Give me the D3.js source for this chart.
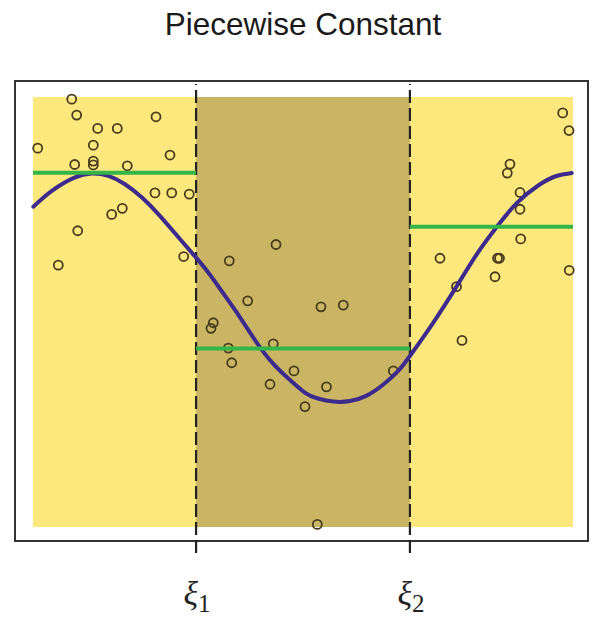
<html>
<meta charset="utf-8" />
<head>
<title>Piecewise Constant</title>
<style>
body { margin: 0; background: #fff; }
svg { display: block; }
.title { font-family: "Liberation Sans", Arial, sans-serif; font-size: 31.5px; fill: #1a1a1a; text-anchor: middle; }
.knot { font-family: "Liberation Serif", "DejaVu Serif", serif; fill: #222; }
</style>
<script src="https://cdn.jsdelivr.net/npm/d3@7"></script>
</head>
<body>
<svg class="chart"></svg>

<script>
var chartWidth = 592;
var chartHeight = 617;

/********
 * Data *
 ********/

// observed points
var pointX = [7.17, 8.09, 11.98, 15.61, 22.78, 0.87, 11.17, 25.37, 7.72, 11.17,
              11.17, 17.46, 22.59, 25.69, 28.94, 16.54, 14.57, 8.28, 4.69, 27.91,
              45.0, 36.35, 39.76, 53.33, 57.46, 33.39, 32.96, 36.17, 44.5, 36.8,
              48.33, 66.72, 43.89, 54.35, 50.37, 52.65,
              98.09, 99.26, 88.33, 87.83, 90.19, 90.19, 90.31, 75.37, 86.02, 86.39,
              85.56, 99.3, 78.43, 79.44];
var pointY = [99.5, 95.8, 92.7, 92.7, 95.4, 88.1, 88.8, 86.5, 84.3, 85.1,
              84.2, 84.0, 77.7, 77.7, 77.4, 74.1, 72.7, 68.9, 60.9, 62.9,
              65.7, 61.9, 52.6, 51.2, 51.6, 47.5, 46.2, 41.6, 42.6, 38.2,
              36.3, 36.3, 33.2, 32.6, 28.0, 0.6,
              96.3, 92.2, 84.4, 82.3, 77.8, 73.9, 67.0, 62.5, 62.5, 62.5,
              58.2, 59.7, 55.9, 43.4];

// true function
var curveX = [0.06, 3.46, 7.78, 10.87, 13.94, 17.04, 20.13, 23.2, 26.3, 30.0,
              32.17, 35.24, 38.33, 41.43, 44.5, 47.59, 50.69, 52.54, 55.61, 58.7,
              61.8, 64.87, 67.96, 69.81, 74.13, 78.46, 82.17, 85.87, 89.57, 93.89,
              96.98, 99.76];
var curveY = [74.5, 78.4, 81.6, 82.4, 81.9, 79.9, 76.8, 72.9, 68.3, 62.9,
              59.8, 54.3, 48.9, 42.7, 37.7, 34.2, 30.7, 29.9, 29.0, 29.1,
              30.3, 33.0, 36.5, 39.8, 47.4, 55.9, 63.7, 69.8, 75.7, 79.9,
              81.9, 82.3];

// knots and piecewise constant fit
var knots = [30.2, 69.8];
var knotLabels = ["1", "2"];
var pieceStart = [0, 30.2, 69.8];
var pieceEnd = [30.2, 69.8, 100];
var pieceLevel = [82.4, 41.5, 69.8];

/**********
 * Scales *
 **********/

var frame = {left: 15, top: 81, right: 588, bottom: 541};

var x = d3.scaleLinear().domain([0, 100]).range([33, 573]);
var y = d3.scaleLinear().domain([0, 100]).range([527, 97]);

/**************
 * Make Chart *
 **************/

function makeChart() {
  var svg = d3.select(".chart")
      .attr("width", chartWidth)
      .attr("height", chartHeight);

  svg.append("text")
      .attr("class", "title")
      .attr("x", 303)
      .attr("y", 35)
      .text("Piecewise Constant");

  // background regions
  svg.append("rect")
      .attr("x", x(0)).attr("y", y(100))
      .attr("width", x(100) - x(0)).attr("height", y(0) - y(100))
      .attr("fill", "#fde87e");

  svg.append("rect")
      .attr("x", x(knots[0])).attr("y", y(100))
      .attr("width", x(knots[1]) - x(knots[0])).attr("height", y(0) - y(100))
      .attr("fill", "#cab564");

  // frame
  svg.append("rect")
      .attr("x", frame.left).attr("y", frame.top)
      .attr("width", frame.right - frame.left).attr("height", frame.bottom - frame.top)
      .attr("fill", "none")
      .attr("stroke", "#333")
      .attr("stroke-width", 2);

  // knot lines, drawn bottom-up so the piece below the frame is solid
  svg.selectAll(".knotline")
      .data(knots)
    .enter().append("line")
      .attr("class", "knotline")
      .attr("x1", function(d){ return x(d); })
      .attr("x2", function(d){ return x(d); })
      .attr("y1", frame.bottom + 12)
      .attr("y2", frame.top + 3)
      .attr("stroke", "#222")
      .attr("stroke-width", 2.2)
      .attr("stroke-dasharray", "13,5");

  // points
  var pts = pointX.map(function(d, i){ return [d, pointY[i]]; });
  svg.selectAll(".pt")
      .data(pts)
    .enter().append("circle")
      .attr("class", "pt")
      .attr("cx", function(d){ return x(d[0]); })
      .attr("cy", function(d){ return y(d[1]); })
      .attr("r", 4.5)
      .attr("fill", "none")
      .attr("stroke", "#473c1c")
      .attr("stroke-width", 1.8);

  // true curve
  var line = d3.line()
      .x(function(d){ return x(d[0]); })
      .y(function(d){ return y(d[1]); })
      .curve(d3.curveBasis);

  svg.append("path")
      .datum(curveX.map(function(d, i){ return [d, curveY[i]]; }))
      .attr("d", line)
      .attr("fill", "none")
      .attr("stroke", "#3c2b8c")
      .attr("stroke-width", 4)
      .attr("stroke-linecap", "round");

  // piecewise constant fit
  svg.selectAll(".piece")
      .data(pieceLevel)
    .enter().append("line")
      .attr("class", "piece")
      .attr("x1", function(d, i){ return x(pieceStart[i]); })
      .attr("x2", function(d, i){ return x(pieceEnd[i]); })
      .attr("y1", function(d){ return y(d); })
      .attr("y2", function(d){ return y(d); })
      .attr("stroke", "#33b547")
      .attr("stroke-width", 4);

  // knot labels
  var lab = svg.selectAll(".knot")
      .data(knots)
    .enter().append("text")
      .attr("class", "knot")
      .attr("x", function(d){ return x(d) + 1; })
      .attr("y", 605)
      .attr("text-anchor", "middle");

  lab.append("tspan")
      .attr("font-style", "italic")
      .attr("font-size", 34)
      .text("ξ");

  lab.append("tspan")
      .attr("font-size", 25)
      .attr("dy", 7)
      .text(function(d, i){ return knotLabels[i]; });
}

makeChart();
</script>
</body>
</html>
